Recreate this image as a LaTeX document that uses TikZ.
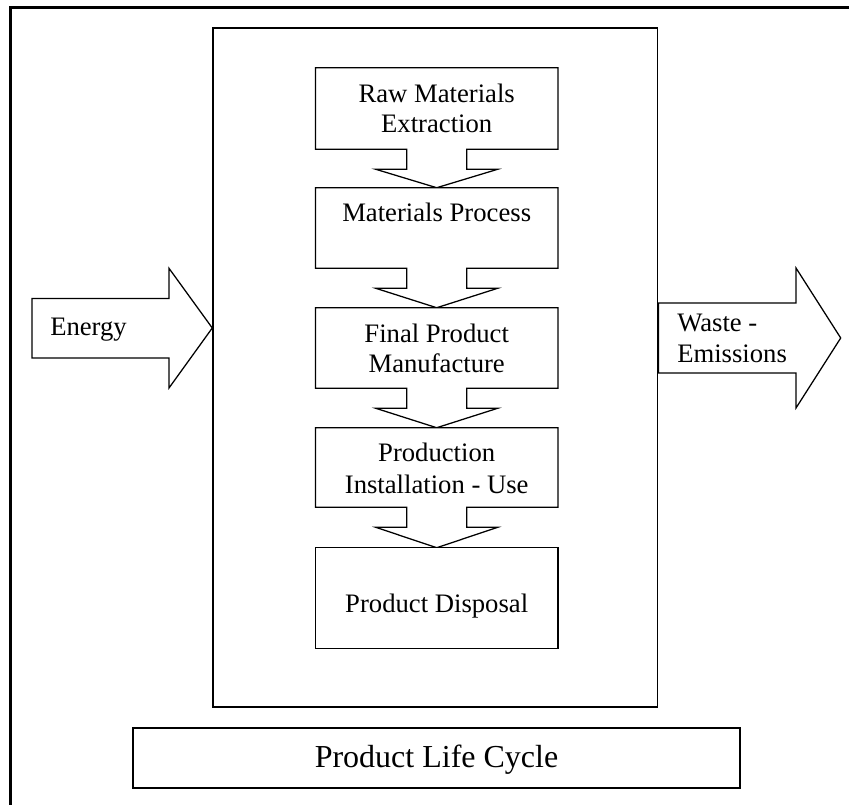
\documentclass[tikz,border=0pt]{standalone}
\usepackage{fontspec}
\setmainfont{Liberation Serif}
\usetikzlibrary{calc,fit}
\begin{document}
\begin{tikzpicture}[x=0.75pt,y=-0.75pt,
  stagebox/.style={inner sep=0pt},
  stageline/.style={draw=black,fill=white,line width=0.95pt,line join=miter},
  lbl/.style={font=\fontsize{20}{23}\selectfont,align=center,anchor=base,inner sep=0pt},
  bigarrow/.style={draw=black,fill=white,line width=0.95pt,line join=miter},
  frame/.style={draw=black,line width=1.1pt}]
\useasboundingbox (0,0) rectangle (849,805);
\clip (0,0) rectangle (849,805);
% outer frame
\draw[line width=1.6pt] (10.5,7.5) rectangle (880,840);
% life cycle frame
\node[frame,fit={(213,28) (657.7,707)},inner sep=0pt] (life) {};
% stage boxes
\node[stagebox,fit={(315.7,68) (557.7,149)}] (s1) {};
\node[stagebox,fit={(315.7,188) (557.7,268)}] (s2) {};
\node[stagebox,fit={(315.7,308) (557.7,388)}] (s3) {};
\node[stagebox,fit={(315.7,428) (557.7,507)}] (s4) {};
\node[stagebox,fit={(315.7,548) (557.7,648)}] (s5) {};
\foreach \a/\b in {s1/s2,s2/s3,s3/s4,s4/s5}{
  \draw[stageline] (\a.south west) -- (\a.north west) -- (\a.north east) -- (\a.south east)
    -- ($(\a.south)+(30,0)$) -- ++(0,20) -- ++(31,0) -- (\b.north)
    -- ($(\a.south)+(-61,20)$) -- ++(31,0) -- ($(\a.south)+(-30,0)$) -- cycle;
}
\draw[stageline] (s5.south west) rectangle (s5.north east);
% stage texts (base = baseline of last line)
\node[lbl] (t1) at (436.7,133) {Raw Materials\\Extraction};
\node[lbl] (t2) at (436.7,221.7) {Materials Process};
\node[lbl] (t3) at (436.7,373) {Final Product\\Manufacture};
\node[lbl,font=\fontsize{20}{24}\selectfont] (t4) at (436.7,493) {Production\\Installation - Use};
\node[lbl] (t5) at (436.7,612) {Product Disposal};
% energy arrow
\draw[bigarrow] (32,298.5) -- (169,298.5) -- (169,268.3) -- (life.west |- 0,328) -- (169,388) -- (169,358) -- (32,358) -- cycle;
\node[lbl,anchor=base west] (energy) at (50,335) {Energy};
% waste arrow
\draw[bigarrow] (life.east |- 0,303) -- (796,303) -- (796,268) -- (840.7,338) -- (796,408) -- (796,373) -- (life.east |- 0,373) -- cycle;
\node[lbl,align=left,anchor=base west] (waste) at (677,362.3) {Waste -\\Emissions};
% product life cycle label
\node[draw=black,line width=1.4pt,fit={(133,728) (740,788)},inner sep=0pt] (plc) {};
\node[font=\fontsize{24}{28}\selectfont,anchor=base,inner sep=0pt] (plctext) at (436.5,767) {Product Life Cycle};
\end{tikzpicture}
\end{document}
